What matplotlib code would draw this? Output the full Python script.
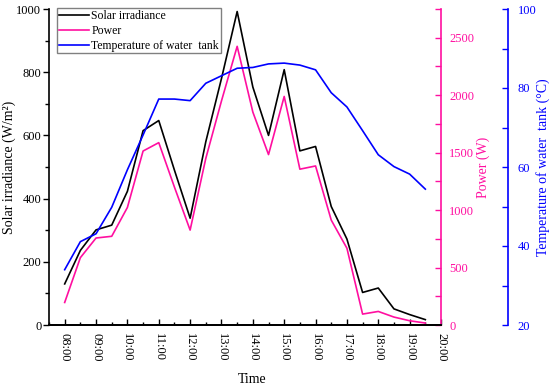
import matplotlib
matplotlib.use("Agg")
import matplotlib.pyplot as plt
from matplotlib.ticker import MultipleLocator

plt.rcParams['font.family'] = ['Liberation Serif', 'DejaVu Serif']
plt.rcParams['font.size'] = 9

# half-hourly readings 08:00 .. 19:30
hours = [8 + 0.5 * i for i in range(24)]
irradiance = [130, 236, 301, 316, 423, 615, 647, 490, 338, 580, 780, 992,
              753, 600, 808, 551, 565, 375, 272, 103, 117, 51, 33, 17]
power = [196, 586, 757, 772, 1023, 1514, 1587, 1200, 826, 1450, 1950, 2425,
         1853, 1483, 1989, 1356, 1384, 913, 668, 95, 118, 69, 37, 17]
tank_temp = [34.0, 41.1, 43.1, 49.8, 59.3, 68.1, 77.2, 77.2, 76.8, 81.2, 83.1, 85.0,
             85.2, 86.1, 86.3, 85.8, 84.6, 78.8, 75.2, 69.2, 63.1, 60.1, 58.2, 54.4]
tick_hours = list(range(8, 21))
tick_labels = ["%02d:00" % h for h in tick_hours]

pink = '#FF0FA0'
blue = '#0000FF'

fig = plt.figure(figsize=(5.5, 3.88), dpi=100)
ax = fig.add_axes([49 / 550, 63 / 388, 392 / 550, 316 / 388])
ax2 = ax.twinx()
ax3 = ax.twinx()

l1, = ax.plot(hours, irradiance, color='black', lw=1.2, label='Solar irradiance')
l2, = ax2.plot(hours, power, color=pink, lw=1.2, label='Power')
l3, = ax3.plot(hours, tank_temp, color=blue, lw=1.2, label='Temperature of water  tank')

ax.set_xlim(7.5, 20.0)
ax.set_ylim(0, 1000)
ax2.set_ylim(0, 2750)
ax3.set_ylim(20, 100)

for a in (ax, ax2, ax3):
    a.spines['top'].set_visible(False)
ax.spines['right'].set_visible(False)
ax2.spines['left'].set_visible(False)
ax3.spines['left'].set_visible(False)
ax2.spines['right'].set_color(pink)
ax3.spines['right'].set_color(blue)
ax3.spines['right'].set_position(('axes', (508 - 49) / 392))
for a in (ax, ax2, ax3):
    for s in a.spines.values():
        s.set_linewidth(1.2)

ax.set_xticks(tick_hours)
ax.set_xticklabels(tick_labels, rotation=270)
ax.xaxis.set_minor_locator(MultipleLocator(0.5))
ax.tick_params(axis='x', which='major', direction='in', length=4, width=1, pad=6)
ax.tick_params(axis='x', which='minor', direction='in', length=2.5, width=1)

ax.yaxis.set_major_locator(MultipleLocator(200))
ax.yaxis.set_minor_locator(MultipleLocator(100))
ax.tick_params(axis='y', which='major', direction='out', length=4, width=1, pad=1.5)
ax.tick_params(axis='y', which='minor', direction='out', length=3, width=1)

ax2.yaxis.set_major_locator(MultipleLocator(500))
ax2.yaxis.set_minor_locator(MultipleLocator(250))
ax2.tick_params(axis='y', which='both', direction='in', length=4, width=1,
                colors=pink, pad=6)

ax3.yaxis.set_major_locator(MultipleLocator(20))
ax3.yaxis.set_minor_locator(MultipleLocator(10))
ax3.tick_params(axis='y', which='both', direction='in', length=4, width=1,
                colors=blue, pad=7)

ax.set_xlabel('Time', fontsize=10)
ax.xaxis.set_label_coords((252 - 49) / 392, (325 - 373) / 316)
ax.set_ylabel('Solar irradiance (W/m²)', fontsize=10)
ax.yaxis.set_label_coords((16 - 49) / 392, 0.5)
ax2.set_ylabel('Power (W)', color=pink, fontsize=10)
ax2.yaxis.set_label_coords((477 - 49) / 392, 0.5)
ax3.set_ylabel('Temperature of water  tank (°C)', color=blue, fontsize=10)
ax3.yaxis.set_label_coords((536 - 49) / 392, 0.5)

leg = ax3.legend(handles=[l1, l2, l3], loc='upper left',
                 bbox_to_anchor=((57 - 49) / 392, (325 - 8) / 316),
                 borderaxespad=0, fancybox=False, framealpha=1,
                 edgecolor='#808080', handlelength=2.6, handletextpad=0.15,
                 borderpad=0.15, labelspacing=0.25, fontsize=8.5)
leg.get_frame().set_linewidth(1.0)

fig.savefig('out.png', dpi=100)
plt.close(fig)
